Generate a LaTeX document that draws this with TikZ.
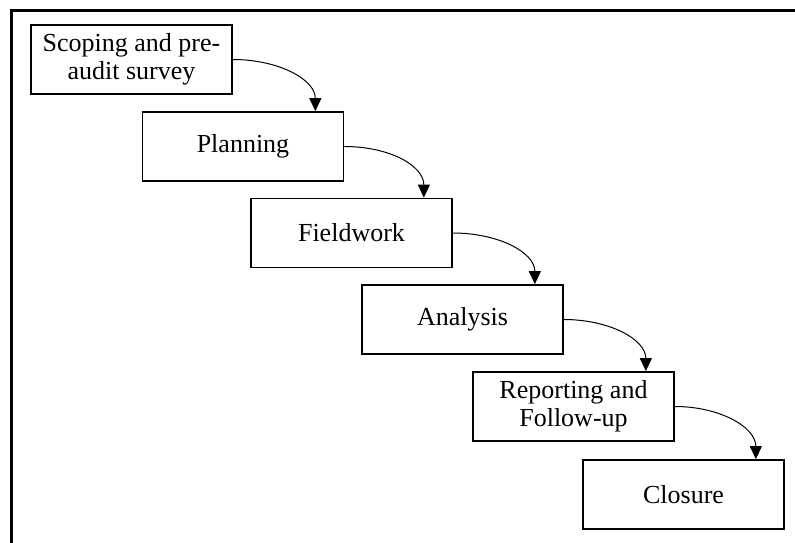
\documentclass[tikz,border=0pt]{standalone}
\usepackage{fontspec}
\setmainfont{Liberation Serif}
\usetikzlibrary{arrows.meta}
\begin{document}
\begin{tikzpicture}[x=1pt,y=1pt,
  stage/.style={draw, line width=1.7pt, minimum width=201pt, minimum height=69pt,
    inner sep=2pt, align=center, font=\fontsize{26}{28}\selectfont},
  flow/.style={line width=1pt, -{Triangle[length=13pt,width=12pt]}}]
\useasboundingbox (0,0) rectangle (795,542);
% partial outer frame (top and left edges)
\draw[line width=3pt] (11,-10) -- (11,531) -- (810,531);
% process stages
\node[stage] (s1) at (131.5,482.5) {Scoping and pre-\\audit survey};
\node[stage] (s2) at (243,395.5) {Planning};
\node[stage] (s3) at (351.5,309) {Fieldwork};
\node[stage] (s4) at (462.5,222.5) {Analysis};
\node[stage] (s5) at (573.5,135.5) {Reporting and\\Follow-up};
\node[stage] (s6) at (683.5,47.5) {Closure};
% curved connectors into the top of each next stage
\foreach \a/\b in {s1/s2,s2/s3,s3/s4,s4/s5,s5/s6}{
  \draw[flow] (\a.east) .. controls +(45,0) and +(0,32) .. ([xshift=-29pt]\b.north east);
}
\end{tikzpicture}
\end{document}
